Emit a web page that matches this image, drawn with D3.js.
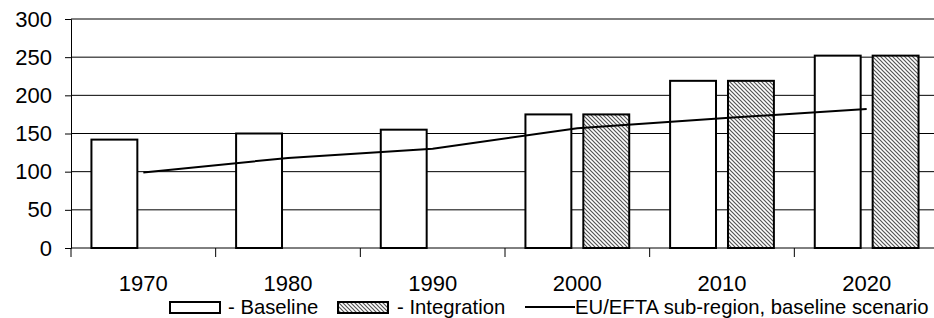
<!DOCTYPE html>
<html><head><meta charset="utf-8">
<script src="https://cdn.jsdelivr.net/npm/d3@7"></script>
<style>
html,body{margin:0;padding:0;background:#fff;}
svg{display:block;font-family:"Liberation Sans",Arial,sans-serif;}
</style></head>
<body><svg id="c" width="934" height="318"></svg>
<script>
const years = ["1970","1980","1990","2000","2010","2020"];
const baseline = [142, 150, 155, 175, 219, 252];
const integration = [null, null, null, 175, 219, 252];
const euEfta = [99, 118, 130, 157, 170, 182];
const yTicks = [0, 50, 100, 150, 200, 250, 300];
const seriesNames = ["Baseline", "Integration"];
const legendLabels = ["- Baseline", "- Integration", "EU/EFTA sub-region, baseline scenario"];

(function(){
const svg = d3.select("#c");
const pLeft = 71, pRight = 939, pTop = 19, pBottom = 248;

const x = d3.scaleBand().domain(years).range([pLeft, pRight]).padding(0);
const xi = d3.scaleBand().domain(seriesNames).range([0, x.bandwidth()])
  .paddingInner(0.207).paddingOuter(0.353);
const y = d3.scaleLinear().domain([0, 300]).range([pBottom, pTop]);

const defs = svg.append("defs");
const pat = defs.append("pattern").attr("id","hatch").attr("patternUnits","userSpaceOnUse")
  .attr("width",4).attr("height",4);
pat.append("rect").attr("width",4).attr("height",4).attr("fill","#fff");
pat.append("path").attr("d","M-1,-1 L5,5 M-1,3 L1,5 M3,-1 L5,1")
  .attr("stroke","#555").attr("stroke-width",1.2);

// gridlines
svg.append("g").selectAll("line").data(yTicks.filter(d=>d>0)).join("line")
  .attr("x1", pLeft).attr("x2", 934).attr("y1", d=>y(d)).attr("y2", d=>y(d))
  .attr("stroke","#000").attr("stroke-width",1);

// y axis
const ya = svg.append("g").attr("transform",`translate(${pLeft},0)`)
  .call(d3.axisLeft(y).tickValues(yTicks).tickSize(6).tickPadding(13));
ya.select(".domain").attr("stroke","#000");
ya.selectAll(".tick line").attr("stroke","#000");
ya.selectAll("text").attr("font-size",22).attr("fill","#000")
  .attr("font-family","'Liberation Sans',Arial,sans-serif");

// bars
const data = years.map((yr,i)=>({yr, vals:[baseline[i], integration[i]]}));
const g = svg.append("g");
data.forEach(d=>{
  d.vals.forEach((v,j)=>{
    if (v==null) return;
    g.append("rect")
      .attr("x", x(d.yr) + xi(seriesNames[j]))
      .attr("y", y(v))
      .attr("width", xi.bandwidth())
      .attr("height", y(0) - y(v))
      .attr("fill", j===0 ? "#fff" : "url(#hatch)")
      .attr("stroke","#000").attr("stroke-width",2);
  });
});

// x axis
const xa = svg.append("g").attr("transform",`translate(0,${pBottom})`);
xa.append("line").attr("x1",pLeft).attr("x2",934).attr("stroke","#000");
xa.selectAll("line.t").data(years).join("line").attr("class","t")
  .attr("x1",d=>x(d)).attr("x2",d=>x(d)).attr("y1",0).attr("y2",9).attr("stroke","#000");
xa.selectAll("text").data(years).join("text")
  .attr("x",d=>x(d)+x.bandwidth()/2).attr("y",43)
  .attr("text-anchor","middle").attr("font-size",22).attr("fill","#000").text(d=>d);

// line
const line = d3.line().x((d,i)=>x(years[i])+x.bandwidth()/2).y(d=>y(d));
svg.append("path").datum(euEfta).attr("d",line).attr("fill","none")
  .attr("stroke","#000").attr("stroke-width",2);

// legend
const lg = svg.append("g");
lg.append("rect").attr("x",170).attr("y",302).attr("width",50).attr("height",11)
  .attr("fill","#fff").attr("stroke","#000").attr("stroke-width",2);
lg.append("text").attr("x",228).attr("y",314).attr("font-size",20.3).text(legendLabels[0]);
lg.append("rect").attr("x",338).attr("y",302).attr("width",50).attr("height",11)
  .attr("fill","url(#hatch)").attr("stroke","#000").attr("stroke-width",2);
lg.append("text").attr("x",397).attr("y",314).attr("font-size",20.3).text(legendLabels[1]);
lg.append("line").attr("x1",525).attr("x2",575).attr("y1",307).attr("y2",307)
  .attr("stroke","#000").attr("stroke-width",2);
lg.append("text").attr("x",575).attr("y",314).attr("font-size",20.3).text(legendLabels[2]);
})();
</script></body></html>
